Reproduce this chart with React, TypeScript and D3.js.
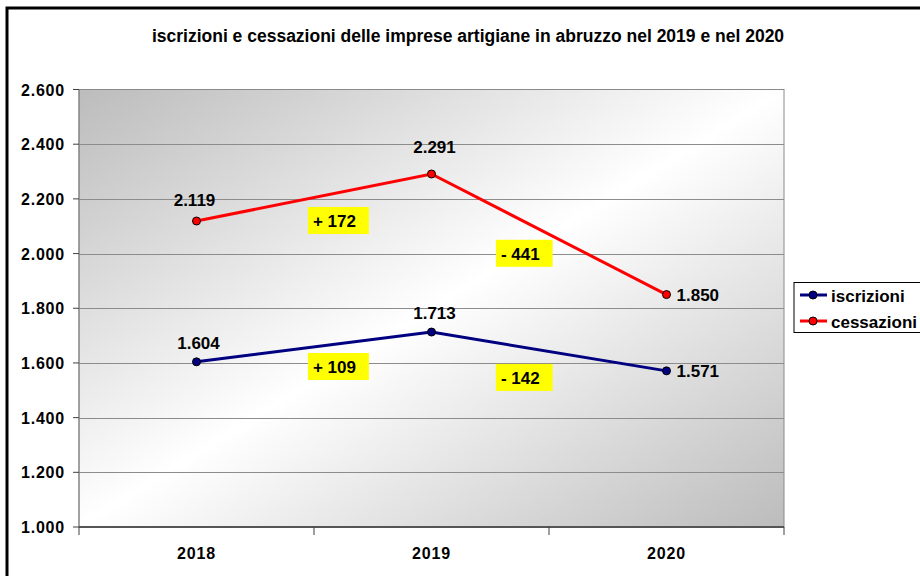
import React from 'react';
import * as d3 from 'd3';

const years = ['2018', '2019', '2020'];
const iscrizioni = [1604, 1713, 1571];
const cessazioni = [2119, 2291, 1850];
const yTicks = [1000, 1200, 1400, 1600, 1800, 2000, 2200, 2400, 2600];

// where the yellow difference boxes sit: fraction between two years, value at box centre
const boxAnchorsCess = [{ t: 0.474, v: 2121 }, { t: 0.274, v: 2001 }];
const boxAnchorsIscr = [{ t: 0.474, v: 1587 }, { t: 0.274, v: 1547 }];

// data label nudges (px) per point; last point labels go to the right
const nudgeCess = [{ dx: -2, dy: -15 }, { dx: 3, dy: -21 }, null];
const nudgeIscr = [{ dx: 2, dy: -13 }, { dx: 3, dy: -13 }, null];

const FONT = '"Liberation Sans", Arial, sans-serif';

const fmt = (v: number) => d3.format(',')(v).replace(/,/g, '.');
const fmtTick = (v: number) => d3.format(',.0f')(v).replace(/,/g, '.');

let measureCtx: CanvasRenderingContext2D | null = null;
const textWidth = (s: string, size: number) => {
  if (!measureCtx) measureCtx = document.createElement('canvas').getContext('2d');
  if (!measureCtx) return s.length * size * 0.55;
  measureCtx.font = `bold ${size}px ${FONT}`;
  return measureCtx.measureText(s).width;
};

const W = 920;
const H = 576;
const plot = { left: 79, right: 784, top: 89.5, bottom: 527 };

const App: React.FC = () => {
  const x = d3.scaleBand<string>().domain(years).range([plot.left, plot.right]);
  const cx = (i: number) => (x(years[i]) as number) + x.bandwidth() / 2;
  const y = d3.scaleLinear().domain([1000, 2600]).range([plot.bottom, plot.top]);

  const line = d3.line<number>().x((_, i) => cx(i)).y(d => y(d));

  const series = [
    { name: 'iscrizioni', values: iscrizioni, color: '#000080', nudge: nudgeIscr, boxes: boxAnchorsIscr },
    { name: 'cessazioni', values: cessazioni, color: '#ff0000', nudge: nudgeCess, boxes: boxAnchorsCess },
  ];

  return (
    <svg width={W} height={H} style={{ position: 'absolute', left: 0, top: 0, background: '#fff' }} fontFamily={FONT}>
      <defs>
        <linearGradient id="plotBg" x1="0" y1="0" x2="1" y2="1">
          <stop offset="0" stopColor="#bcbcbc" />
          <stop offset="0.5" stopColor="#ffffff" />
          <stop offset="1" stopColor="#bcbcbc" />
        </linearGradient>
      </defs>

      {/* outer frame */}
      <rect x={7} y={8} width={1000} height={1000} fill="none" stroke="#000" strokeWidth={3} />

      <text x={468} y={41.5} textAnchor="middle" fontSize={17.5} fontWeight="bold">
        iscrizioni e cessazioni delle imprese artigiane in abruzzo nel 2019 e nel 2020
      </text>

      {/* plot area */}
      <rect x={plot.left} y={plot.top} width={plot.right - plot.left} height={plot.bottom - plot.top}
        fill="url(#plotBg)" stroke="#8a8a8a" strokeWidth={1} />

      {yTicks.slice(1, -1).map(t => (
        <line key={t} x1={plot.left} x2={plot.right} y1={Math.round(y(t)) + 0.5} y2={Math.round(y(t)) + 0.5}
          stroke="#8c8c8c" strokeWidth={1} />
      ))}

      {/* y axis */}
      <line x1={plot.left} x2={plot.left} y1={plot.top} y2={plot.bottom} stroke="#808080" strokeWidth={1} />
      {yTicks.map(t => (
        <g key={t}>
          <line x1={plot.left - 6} x2={plot.left} y1={y(t)} y2={y(t)} stroke="#404040" strokeWidth={1} />
          <text x={65} y={y(t) + 6} textAnchor="end" fontSize={16} fontWeight="bold" letterSpacing={0.8}>
            {fmtTick(t)}
          </text>
        </g>
      ))}

      {/* x axis */}
      <line x1={plot.left} x2={plot.right} y1={plot.bottom} y2={plot.bottom} stroke="#555" strokeWidth={2} />
      {[...years.map(yr => x(yr) as number), plot.right].map((v, i) => (
        <line key={i} x1={v} x2={v} y1={plot.bottom} y2={plot.bottom + 8} stroke="#404040" strokeWidth={1} />
      ))}
      {years.map((yr, i) => (
        <text key={yr} x={cx(i)} y={559} textAnchor="middle" fontSize={16} fontWeight="bold" letterSpacing={0.8}>
          {yr}
        </text>
      ))}

      {/* series */}
      {series.map(s => (
        <g key={s.name}>
          <path d={line(s.values) || ''} fill="none" stroke={s.color} strokeWidth={3} />
          {s.values.map((v, i) => (
            <circle key={i} cx={cx(i)} cy={y(v)} r={4} fill={s.color} stroke="#000" strokeWidth={1} />
          ))}
          {s.values.map((v, i) => {
            const n = s.nudge[i];
            return n ? (
              <text key={'l' + i} x={cx(i) + n.dx} y={y(v) + n.dy} textAnchor="middle" fontSize={17} fontWeight="bold">
                {fmt(v)}
              </text>
            ) : (
              <text key={'l' + i} x={cx(i) + 10} y={y(v) + 6.5} fontSize={17} fontWeight="bold">
                {fmt(v)}
              </text>
            );
          })}
          {s.boxes.map((b, i) => {
            const diff = s.values[i + 1] - s.values[i];
            const label = (diff >= 0 ? '+ ' : '- ') + Math.abs(diff);
            const bx = cx(i) + b.t * (cx(i + 1) - cx(i));
            const by = y(b.v);
            const tw = textWidth(label, 17);
            return (
              <g key={'b' + i}>
                <rect x={bx} y={by - 13.5} width={tw + 18} height={27} fill="#ffff00" />
                <text x={bx + 5} y={by + 6.5} fontSize={17} fontWeight="bold">{label}</text>
              </g>
            );
          })}
        </g>
      ))}

      {/* legend */}
      <rect x={794} y={282.5} width={200} height={50} fill="#fff" stroke="#000" strokeWidth={1} />
      {series.map((s, i) => (
        <g key={s.name} transform={`translate(0, ${295 + i * 26})`}>
          <line x1={800} x2={827} y1={0} y2={0} stroke={s.color} strokeWidth={3} />
          <circle cx={813} cy={0} r={4} fill={s.color} stroke="#000" strokeWidth={1} />
          <text x={831} y={6.5} fontSize={17} fontWeight="bold">{s.name}</text>
        </g>
      ))}
    </svg>
  );
};

export default App;
